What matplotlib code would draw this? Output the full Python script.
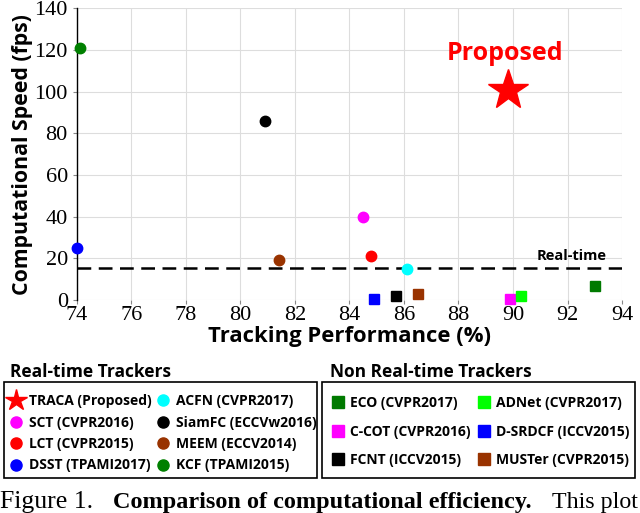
import matplotlib
matplotlib.use('Agg')
import matplotlib.pyplot as plt
from matplotlib.lines import Line2D
from matplotlib.patches import Rectangle

# real-time trackers (circles)
rt_names = ['SCT (CVPR2016)', 'LCT (CVPR2015)', 'DSST (TPAMI2017)', 'ACFN (CVPR2017)',
            'SiamFC (ECCVw2016)', 'MEEM (ECCV2014)', 'KCF (TPAMI2015)']
rt_perf = [84.5, 84.8, 74.0, 86.1, 80.9, 81.4, 74.1]
rt_fps = [40, 21, 25, 15, 86, 19, 121]
rt_colors = ['#ff00ff', '#ff0000', '#0000ff', '#00ffff', '#000000', '#993300', '#008000']

# non real-time trackers (squares)
nrt_names = ['ECO (CVPR2017)', 'C-COT (CVPR2016)', 'FCNT (ICCV2015)',
             'ADNet (CVPR2017)', 'D-SRDCF (ICCV2015)', 'MUSTer (CVPR2015)']
nrt_perf = [93.0, 89.9, 85.7, 90.3, 84.9, 86.5]
nrt_fps = [7, 0.3, 2, 2, 0.3, 3]
nrt_colors = ['#007a00', '#ff00ff', '#000000', '#00ff00', '#0000ff', '#993300']

proposed_perf = 89.8
proposed_fps = 101
realtime_fps = 15.5

sans = 'Open Sans'
serif = 'Liberation Serif'
plt.rcParams['font.family'] = serif

W, H = 640, 513
fig = plt.figure(figsize=(6.4, 5.13), dpi=100)
ax = fig.add_axes([0.120, 0.415, 0.852, 0.569])

ax.grid(True, color='#dddddd', linewidth=0.8)
ax.set_axisbelow(True)
for s in ['top', 'right', 'bottom']:
    ax.spines[s].set_visible(False)
ax.spines['left'].set_linewidth(1.0)

ax.plot([74, 94], [realtime_fps, realtime_fps], color='black', linewidth=1.8, dashes=(5.5, 3))
ax.text(93.45, realtime_fps + 2.5, 'Real-time', fontfamily=sans, fontweight='bold',
        fontsize=10.5, ha='right', va='bottom')

for x, y, c in zip(rt_perf, rt_fps, rt_colors):
    ax.plot(x, y, 'o', color=c, markersize=7.5, clip_on=False, zorder=3)
for x, y, c in zip(nrt_perf, nrt_fps, nrt_colors):
    ax.plot(x, y, 's', color=c, markersize=7, clip_on=False, zorder=3)
ax.plot(proposed_perf, proposed_fps, '*', color='#ff0000', markersize=30, zorder=4)
ax.text(proposed_perf - 0.1, proposed_fps + 17.5, 'Proposed', color='#ff0000', fontfamily=sans,
        fontweight='bold', fontsize=18, ha='center', va='center')

ax.set_xlim(74, 94)
ax.set_ylim(0, 140)
ax.set_xticks(range(74, 95, 2))
ax.set_yticks(range(0, 141, 20))
ax.tick_params(labelsize=16, length=3, color='#888888')
ax.tick_params(axis='x', pad=1)
ax.set_xlabel('Tracking Performance (%)', fontfamily=sans, fontweight='bold', fontsize=15.8, labelpad=1)
ax.set_ylabel('Computational Speed (fps)', fontfamily=sans, fontweight='bold', fontsize=15.3, labelpad=1)

# legend boxes (drawn by hand so their size matches the source)
for x0, x1 in [(4, 317), (322, 635)]:
    fig.patches.append(Rectangle((x0 / W, 1 - 478 / H), (x1 - x0) / W, 96 / H,
                                 transform=fig.transFigure, fill=False,
                                 edgecolor='black', linewidth=1.2))

leg_font = {'family': sans, 'weight': 'bold', 'size': 10}


def column(handles, labels, x, y, pad, spacing):
    leg = fig.legend(handles, labels, loc='upper left', bbox_to_anchor=(x / W, 1 - y / H),
                     prop=leg_font, frameon=False, handlelength=1.0, handletextpad=pad,
                     labelspacing=spacing, borderpad=0, borderaxespad=0)
    return leg


rt_handles = [Line2D([], [], marker='*', color='#ff0000', linestyle='', markersize=16)]
rt_handles += [Line2D([], [], marker='o', color=c, linestyle='', markersize=8) for c in rt_colors]
rt_labels = ['TRACA (Proposed)'] + rt_names
column(rt_handles[:4], rt_labels[:4], 9, 394, 0.43, 0.54)
column(rt_handles[4:], rt_labels[4:], 156, 394, 0.43, 0.54)

nrt_handles = [Line2D([], [], marker='s', color=c, linestyle='', markersize=9) for c in nrt_colors]
column(nrt_handles[:3], nrt_names[:3], 331, 396, 0.36, 1.05)
column(nrt_handles[3:], nrt_names[3:], 477, 396, 0.36, 1.05)

fig.text(0.016, 1 - 372 / H, 'Real-time Trackers', fontfamily=sans, fontweight='bold',
         fontsize=12.5, va='center')
fig.text(0.516, 1 - 372 / H, 'Non Real-time Trackers', fontfamily=sans, fontweight='bold',
         fontsize=12.5, va='center')

# caption (cut off at the bottom like the source)
fig.text(0.0, 0.01, 'Figure 1.', fontsize=18.5, va='baseline')
fig.text(113 / W, 0.01, 'Comparison of computational efficiency.', fontweight='bold',
         fontsize=17.5, va='baseline')
fig.text(552 / W, 0.01, 'This plot', fontsize=17.3, va='baseline')

fig.savefig('out.png', dpi=100)
